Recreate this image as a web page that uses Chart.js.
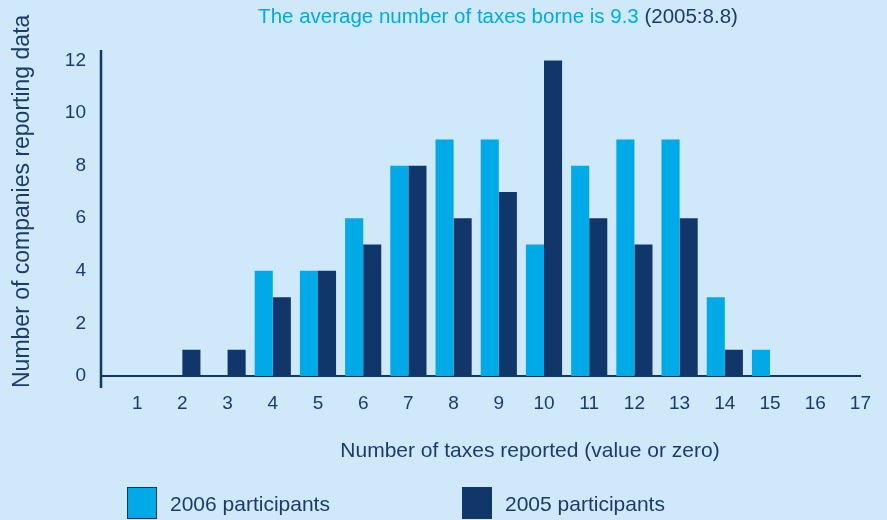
<!DOCTYPE html>
<html>
<head>
<meta charset="utf-8">
<script src="https://cdn.jsdelivr.net/npm/chart.js@4.4.0/dist/chart.umd.min.js"></script>
<style>
  html, body { margin: 0; padding: 0; background: #cfe8fa; }
  #wrap { width: 887px; height: 520px; }
</style>
</head>
<body>
<div id="wrap"><canvas id="taxes-chart" width="887" height="520"></canvas></div>
<script>
const taxCounts = [1, 2, 3, 4, 5, 6, 7, 8, 9, 10, 11, 12, 13, 14, 15, 16, 17];
const participants2006 = [0, 0, 0, 4, 4, 6, 8, 9, 9, 5, 8, 9, 9, 3, 1, 0, 0];
const participants2005 = [0, 1, 1, 3, 4, 5, 8, 6, 7, 12, 6, 5, 6, 1, 0, 0, 0];
const seriesLabels = ['2006 participants', '2005 participants'];

const titleMain = 'The average number of taxes borne is 9.3';
const titleNote = '(2005:8.8)';
const xTitle = 'Number of taxes reported (value or zero)';
const yTitle = 'Number of companies reporting data';

const cyan = '#00aae7';
const navy = '#10366a';
const ink = '#1c3b6d';
const family = '"Liberation Sans", Arial, Helvetica, sans-serif';

Chart.defaults.font.family = family;
Chart.defaults.color = ink;

// title, axis titles, legend and the y axis line are drawn by hand
const decorations = {
  id: 'decorations',
  afterDraw(chart) {
    const { ctx, chartArea, scales: { y } } = chart;
    ctx.save();

    ctx.strokeStyle = navy;
    ctx.lineWidth = 2.5;
    ctx.beginPath();
    ctx.moveTo(chartArea.left, y.top);
    ctx.lineTo(chartArea.left, y.bottom + 12);
    ctx.stroke();

    // two-colour heading
    ctx.font = `20.5px ${family}`;
    ctx.textBaseline = 'alphabetic';
    ctx.textAlign = 'left';
    const first = titleMain + ' ';
    const total = ctx.measureText(first + titleNote).width;
    let tx = 498 - total / 2;
    ctx.fillStyle = cyan;
    ctx.fillText(first, tx, 23);
    tx += ctx.measureText(first).width;
    ctx.fillStyle = ink;
    ctx.fillText(titleNote, tx, 23);

    // x axis title
    ctx.font = `21px ${family}`;
    ctx.textAlign = 'center';
    ctx.fillText(xTitle, 530, 457);

    // y axis title
    ctx.save();
    ctx.translate(29, 388);
    ctx.rotate(-Math.PI / 2);
    ctx.font = `23px ${family}`;
    ctx.textAlign = 'left';
    ctx.fillText(yTitle, 0, 0);
    ctx.restore();

    // legend
    const slots = [127, 462];
    ctx.font = `21px ${family}`;
    ctx.textAlign = 'left';
    chart.data.datasets.forEach((ds, i) => {
      const x = slots[i];
      ctx.fillStyle = ds.backgroundColor;
      ctx.fillRect(x, 487, 30, 32);
      ctx.strokeStyle = navy;
      ctx.lineWidth = 1;
      ctx.strokeRect(x + 0.5, 487.5, 29, 31);
      ctx.fillStyle = ink;
      ctx.fillText(ds.label, x + 43, 511);
    });

    ctx.restore();
  }
};

const toPoints = values => taxCounts.map((x, i) => ({ x, y: values[i] }));

new Chart(document.getElementById('taxes-chart'), {
  type: 'bar',
  data: {
    datasets: [
      { label: seriesLabels[0], data: toPoints(participants2006), backgroundColor: cyan },
      { label: seriesLabels[1], data: toPoints(participants2005), backgroundColor: navy }
    ]
  },
  options: {
    responsive: false,
    animation: false,
    categoryPercentage: 0.8,
    barPercentage: 1.0,
    layout: { padding: { top: 50, right: 24, left: 0, bottom: 0 } },
    plugins: {
      legend: { display: false },
      title: { display: false },
      tooltip: { enabled: false }
    },
    scales: {
      x: {
        type: 'linear',
        min: 0.2,
        max: 17,
        offset: false,
        grid: { display: false, drawTicks: false },
        border: { color: navy, width: 2 },
        ticks: {
          stepSize: 1,
          includeBounds: false,
          autoSkip: false,
          maxRotation: 0,
          padding: 16,
          color: ink,
          font: { size: 19 }
        },
        afterFit: scale => { scale.height = 144; }
      },
      y: {
        min: 0,
        max: 12.4,
        grid: { display: false, drawTicks: false },
        border: { display: false },
        ticks: {
          stepSize: 2,
          includeBounds: false,
          padding: 15,
          color: ink,
          font: { size: 19 }
        },
        afterFit: scale => { scale.width = 101; }
      }
    }
  },
  plugins: [decorations]
});
</script>
</body>
</html>
